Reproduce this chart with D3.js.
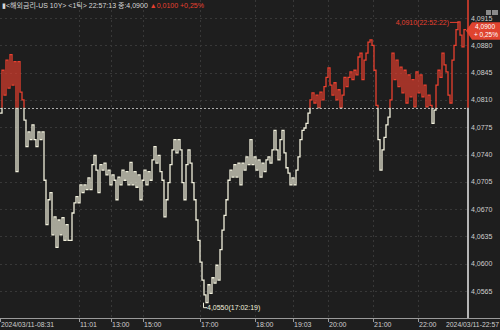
<!DOCTYPE html>
<html>
<head>
<meta charset="utf-8">
<script src="https://cdn.jsdelivr.net/npm/d3@7"></script>
<style>
  body { margin: 0; background: #1e1e1e; }
  svg { display: block; }
  text { font-family: "Liberation Sans", "Noto Sans CJK KR", sans-serif; }
</style>
</head>
<body>
<script>
// US 10Y tick prices, 2024/03/11 08:31 -> 22:57
const prices = [
  4.0793, 4.0848, 4.0816, 4.0861, 4.0825, 4.0868, 4.0829, 4.0859, 4.0718, 4.0859,
  4.0820, 4.0810, 4.0784, 4.0750, 4.0769, 4.0759, 4.0778, 4.0759, 4.0750, 4.0769,
  4.0759, 4.0769, 4.0707, 4.0650, 4.0682, 4.0691, 4.0637, 4.0660, 4.0621, 4.0656,
  4.0637, 4.0659, 4.0630, 4.0650, 4.0630, 4.0630, 4.0665, 4.0678, 4.0686, 4.0678,
  4.0701, 4.0691, 4.0701, 4.0695, 4.0710, 4.0695, 4.0727, 4.0739, 4.0720, 4.0691,
  4.0727, 4.0720, 4.0729, 4.0714, 4.0720, 4.0701, 4.0714, 4.0707, 4.0682, 4.0711,
  4.0701, 4.0720, 4.0707, 4.0718, 4.0701, 4.0730, 4.0701, 4.0718, 4.0698, 4.0714,
  4.0682, 4.0707, 4.0720, 4.0701, 4.0718, 4.0707, 4.0733, 4.0750, 4.0729, 4.0739,
  4.0718, 4.0707, 4.0660, 4.0682, 4.0704, 4.0727, 4.0746, 4.0759, 4.0742, 4.0759,
  4.0746, 4.0704, 4.0682, 4.0727, 4.0746, 4.0729, 4.0704, 4.0682, 4.0656, 4.0630,
  4.0602, 4.0579, 4.0560, 4.0550, 4.0573, 4.0562, 4.0582, 4.0575, 4.0598, 4.0579,
  4.0618, 4.0643, 4.0662, 4.0682, 4.0707, 4.0720, 4.0711, 4.0727, 4.0711, 4.0729,
  4.0701, 4.0729, 4.0720, 4.0737, 4.0727, 4.0759, 4.0727, 4.0737, 4.0720, 4.0733,
  4.0711, 4.0729, 4.0718, 4.0733, 4.0737, 4.0729, 4.0746, 4.0771, 4.0746, 4.0733,
  4.0759, 4.0771, 4.0742, 4.0723, 4.0716, 4.0701, 4.0710, 4.0701, 4.0720, 4.0737,
  4.0759, 4.0771, 4.0774, 4.0780, 4.0793, 4.0810, 4.0819, 4.0806, 4.0816, 4.0800,
  4.0820, 4.0810, 4.0827, 4.0839, 4.0851, 4.0829, 4.0816, 4.0832, 4.0810, 4.0823,
  4.0800, 4.0816, 4.0839, 4.0827, 4.0839, 4.0846, 4.0836, 4.0848, 4.0842, 4.0865,
  4.0870, 4.0836, 4.0861, 4.0870, 4.0884, 4.0887, 4.0880, 4.0848, 4.0803, 4.0759,
  4.0720, 4.0746, 4.0762, 4.0778, 4.0788, 4.0810, 4.0870, 4.0836, 4.0861, 4.0827,
  4.0852, 4.0819, 4.0848, 4.0806, 4.0842, 4.0814, 4.0836, 4.0801, 4.0846, 4.0819,
  4.0842, 4.0814, 4.0829, 4.0801, 4.0816, 4.0803, 4.0780, 4.0797, 4.0829, 4.0848,
  4.0839, 4.0870, 4.0855, 4.0846, 4.0816, 4.0806, 4.0861, 4.0880, 4.0900, 4.0910,
  4.0893, 4.0878, 4.0900, 4.0900
]

const prevClose = 4.0800
const lastPrice = 4.0900

const yTicks = [4.0565, 4.0600, 4.0635, 4.0670, 4.0705, 4.0740, 4.0775, 4.0810, 4.0845, 4.0880, 4.0915]
const timeLabels = ["11:01", "13:00", "15:00", "17:00", "18:00", "19:03", "20:00", "21:00", "22:00"]
const timeIndex = [39.5, 55.5, 71.5, 100, 127.5, 146.5, 164, 186.5, 209]
const firstLabel = "2024/03/11-08:31"
const lastLabel = "2024/03/11-22:57"

const maxIdx = 229, maxText = "4,0910(22:52:22)"
const minIdx = 103, minText = "4,0550(17:02:19)"

const W = 500, H = 330
const plotRight = 468, plotBottom = 318
const red = "#e8402f", cream = "#f1f0dc", axisText = "#cfcfcf"
const fmt = d => d.toFixed(4).replace(".", ",")

const svg = d3.select("body").append("svg")
  .attr("width", W)
  .attr("height", H)
  .style("background", "#1e1e1e")

const x = d3.scaleLinear().domain([0, prices.length - 1]).range([0, 466])
const y = d3.scaleLinear().domain([4.0565, 4.0915]).range([291, 18])

// grid
svg.append("g").selectAll("line")
  .data(yTicks)
  .enter()
  .append("line")
  .attr("x1", 0).attr("x2", plotRight)
  .attr("y1", d => Math.round(y(d)) + 0.5).attr("y2", d => Math.round(y(d)) + 0.5)
  .attr("stroke", "#383838")
  .attr("stroke-dasharray", "2,3")

svg.append("g").selectAll("line")
  .data(timeIndex)
  .enter()
  .append("line")
  .attr("x1", d => Math.round(x(d)) + 0.5).attr("x2", d => Math.round(x(d)) + 0.5)
  .attr("y1", 0).attr("y2", plotBottom)
  .attr("stroke", "#383838")
  .attr("stroke-dasharray", "2,3")

// previous close line
svg.append("line")
  .attr("x1", 0).attr("x2", plotRight)
  .attr("y1", Math.round(y(prevClose)) + 0.5).attr("y2", Math.round(y(prevClose)) + 0.5)
  .attr("stroke", "#b0b0b0")
  .attr("stroke-dasharray", "2,2")

// price line, red above prev close, cream below
let defs = svg.append("defs")
defs.append("clipPath").attr("id", "above")
  .append("rect").attr("x", 0).attr("y", 0).attr("width", plotRight).attr("height", y(prevClose))
defs.append("clipPath").attr("id", "below")
  .append("rect").attr("x", 0).attr("y", y(prevClose)).attr("width", plotRight).attr("height", plotBottom - y(prevClose))

const line = d3.line()
  .x((d, i) => x(i))
  .y(d => y(d))
  .curve(d3.curveStepAfter)

svg.append("path")
  .datum(prices)
  .attr("d", line)
  .attr("fill", "none")
  .attr("stroke", red)
  .attr("stroke-width", 1.3)
  .attr("clip-path", "url(#above)")

svg.append("path")
  .datum(prices)
  .attr("d", line)
  .attr("fill", "none")
  .attr("stroke", cream)
  .attr("stroke-width", 1.3)
  .attr("clip-path", "url(#below)")

// current time marker
svg.append("line")
  .attr("x1", plotRight).attr("x2", plotRight)
  .attr("y1", 0).attr("y2", y(prevClose))
  .attr("stroke", red).attr("stroke-width", 1.5)
svg.append("line")
  .attr("x1", plotRight).attr("x2", plotRight)
  .attr("y1", y(prevClose)).attr("y2", plotBottom)
  .attr("stroke", "#e8e8e8").attr("stroke-width", 1.5)

// right axis labels
svg.append("g").selectAll("text")
  .data(yTicks)
  .enter()
  .append("text")
  .text(d => fmt(d))
  .attr("x", 471)
  .attr("y", d => y(d) + 2.5)
  .attr("font-size", "7px")
  .attr("fill", axisText)

// bottom axis
svg.append("line")
  .attr("x1", 0).attr("x2", W)
  .attr("y1", plotBottom + 0.5).attr("y2", plotBottom + 0.5)
  .attr("stroke", "#9a9a9a")

svg.append("g").selectAll("line")
  .data([0].concat(timeIndex))
  .enter()
  .append("line")
  .attr("x1", d => Math.round(x(d)) + 0.5).attr("x2", d => Math.round(x(d)) + 0.5)
  .attr("y1", plotBottom).attr("y2", plotBottom + 4)
  .attr("stroke", "#9a9a9a")

svg.append("g").selectAll("text")
  .data(timeLabels)
  .enter()
  .append("text")
  .text(d => d)
  .attr("x", (d, i) => x(timeIndex[i]) + 1)
  .attr("y", 327)
  .attr("font-size", "7px")
  .attr("fill", axisText)

svg.append("text").text(firstLabel)
  .attr("x", 1).attr("y", 327)
  .attr("textLength", 53).attr("lengthAdjust", "spacingAndGlyphs")
  .attr("font-size", "7px").attr("fill", axisText)
svg.append("text").text(lastLabel)
  .attr("x", 446).attr("y", 327)
  .attr("textLength", 53).attr("lengthAdjust", "spacingAndGlyphs")
  .attr("font-size", "7px").attr("fill", axisText)

// max / min annotations
let mx = x(maxIdx), my = y(prices[maxIdx])
svg.append("path")
  .attr("d", `M${mx},${my} L${mx},${my + 1} M${mx},${my + 0.5} L${mx - 8},${my + 0.5}`)
  .attr("stroke", red).attr("fill", "none")
svg.append("text").text(maxText)
  .attr("x", mx - 9).attr("y", my + 3.5).attr("text-anchor", "end")
  .attr("font-size", "7px").attr("fill", red)

let nx = x(minIdx), ny = y(prices[minIdx])
svg.append("path")
  .attr("d", `M${nx - 2.5},${ny} L${nx - 2.5},${ny + 5} L${nx + 1},${ny + 5}`)
  .attr("stroke", cream).attr("fill", "none")
svg.append("text").text(minText)
  .attr("x", nx + 1).attr("y", ny + 7.5)
  .attr("font-size", "7px").attr("fill", cream)

// last price tag
let ly = y(lastPrice)
svg.append("path")
  .attr("d", `M466,${ly + 1} L472,${ly - 7.5} L500,${ly - 7.5} L500,${ly + 10} L472,${ly + 10} Z`)
  .attr("fill", "#e0432f")
svg.append("text").text(fmt(lastPrice))
  .attr("x", 495).attr("y", ly - 0.7).attr("text-anchor", "end")
  .attr("font-size", "6.5px").attr("fill", "#ffffff")
svg.append("text").text("+ 0,25%")
  .attr("x", 498).attr("y", ly + 7.6).attr("text-anchor", "end")
  .attr("font-size", "6.5px").attr("fill", "#ffffff")

// small icons top right
svg.append("rect").attr("x", 486).attr("y", 10).attr("width", 5).attr("height", 5).attr("fill", "#8a8a8a")
svg.append("rect").attr("x", 492).attr("y", 10).attr("width", 6).attr("height", 5).attr("fill", "#8a8a8a")

// title
let title = svg.append("text").attr("x", 2).attr("y", 8).attr("font-size", "7px")
title.append("tspan").text("▮<해외금리-US 10Y> <1틱> 22:57:13 종:4,0900 ").attr("fill", "#d8d8d8")
title.append("tspan").text("▲0,0100  +0,25%").attr("fill", red)
</script>
</body>
</html>
